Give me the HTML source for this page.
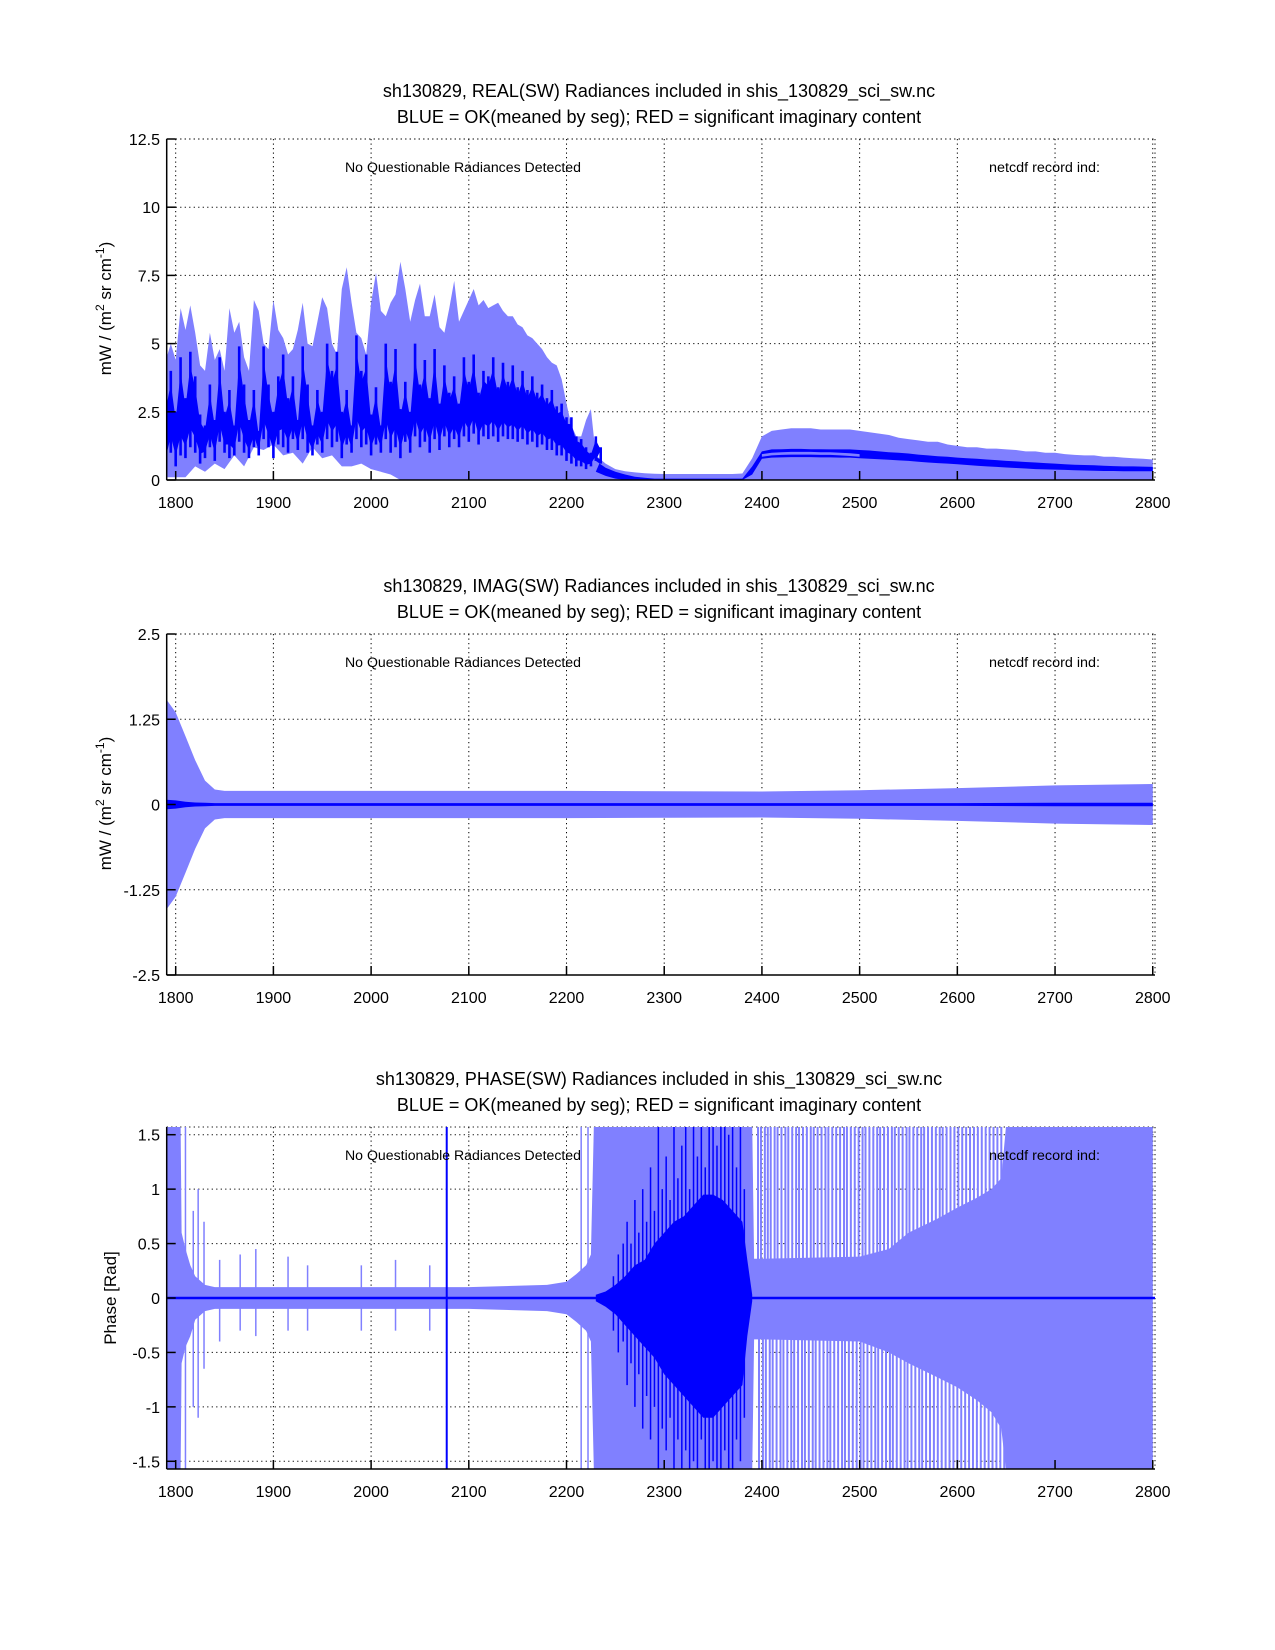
<!DOCTYPE html>
<html><head><meta charset="utf-8"><title>SHIS SW radiances</title>
<style>
html,body{margin:0;padding:0;background:#fff;}
svg{display:block;}
text{font-family:"Liberation Sans",Arial,sans-serif;fill:#000;}
</style></head>
<body>
<svg id="fig" width="1275" height="1650" viewBox="0 0 1275 1650" xmlns="http://www.w3.org/2000/svg">
<rect x="0" y="0" width="1275" height="1650" fill="#fff"/>
</svg>
<script>
// ---------- data ----------
const xTicks = [1800,1900,2000,2100,2200,2300,2400,2500,2600,2700,2800];
const realTicks = [0,2.5,5,7.5,10,12.5];
const realTickLabels = ["0","2.5","5","7.5","10","12.5"];
const imagTicks = [-2.5,-1.25,0,1.25,2.5];
const imagTickLabels = ["-2.5","-1.25","0","1.25","2.5"];
const phaseTicks = [-1.5,-1,-0.5,0,0.5,1,1.5];
const phaseTickLabels = ["-1.5","-1","-0.5","0","0.5","1","1.5"];

// REAL: light envelope upper (step 5 from 1790 to 2225)
const realHiA = [4.4,5.0,4.4,6.3,5.5,6.4,5.4,4.2,4.0,5.4,4.4,4.8,4.0,6.3,5.4,5.8,4.5,4.0,6.6,6.2,5.0,4.8,6.6,5.5,5.2,4.6,4.8,5.5,6.5,5.0,4.9,5.8,6.7,6.3,5.0,4.6,7.0,7.8,6.5,5.4,5.2,4.6,6.5,7.6,6.2,6.0,6.5,6.8,8.0,7.0,5.8,6.6,7.2,6.0,6.0,6.8,5.6,5.4,6.3,7.3,5.8,6.2,6.6,7.0,6.4,6.6,6.3,6.4,6.5,6.2,6.0,6.0,5.7,5.6,5.3,5.2,5.0,4.8,4.5,4.3,4.2,3.7,2.8,2.0,1.6,1.6,2.2,2.6];
// REAL: light envelope upper (step 10 from 2230 to 2800)
const realHiB = [0.9,0.6,0.4,0.32,0.28,0.25,0.23,0.22,0.22,0.22,0.22,0.22,0.22,0.22,0.22,0.24,0.8,1.6,1.8,1.85,1.9,1.9,1.9,1.85,1.85,1.85,1.85,1.8,1.75,1.7,1.65,1.55,1.5,1.45,1.4,1.4,1.3,1.25,1.2,1.2,1.15,1.15,1.12,1.1,1.05,1.05,1.0,1.0,0.95,0.92,0.9,0.9,0.85,0.85,0.82,0.8,0.78,0.75];
// REAL: light lower envelope (step 10 from 1790; zeros afterwards)
const realLo = [0.1,0.1,0.1,0.5,0.3,0.6,0.4,0.9,0.5,1.2,1.1,1.3,0.9,1.0,0.6,1.2,0.8,0.9,0.5,0.5,0.6,0.4,0.3,0.2];
// REAL: dark band (mean by segment) upper / lower, step 5 from 1790 to 2225
const realDarkHiA = [3.0,4.0,2.5,4.5,3.0,4.7,3.8,2.4,2.0,3.5,2.2,4.5,2.5,3.3,2.0,4.9,3.5,2.2,3.3,1.8,4.9,3.5,2.5,3.8,4.6,3.0,3.8,2.2,4.9,3.5,2.0,3.3,2.5,5.0,4.0,4.7,2.5,3.3,2.0,5.3,4.0,4.6,2.4,3.4,2.0,5.0,3.6,4.8,2.6,3.6,2.5,5.0,3.5,4.4,3.0,4.8,2.8,4.2,3.2,3.8,2.8,4.5,3.6,4.6,3.2,4.0,3.8,4.5,3.4,4.3,3.6,4.2,3.4,4.0,3.3,3.8,3.2,3.5,3.0,3.3,2.7,2.8,2.3,2.3,1.6,1.5,1.2,1.0,1.6,1.2];
const realDarkLoA = [0.3,1.0,0.5,0.9,0.8,1.2,1.0,0.6,0.8,1.2,0.7,1.4,1.0,0.8,0.9,1.4,1.0,0.8,1.2,0.9,1.5,1.2,0.8,1.3,1.2,1.0,1.5,1.1,1.5,1.0,0.9,1.3,1.0,1.5,1.2,1.4,0.8,1.3,1.0,1.5,1.2,1.3,0.9,1.3,1.0,1.5,1.0,1.2,0.8,1.4,1.0,1.6,1.2,1.4,1.0,1.5,1.1,1.6,1.2,1.5,1.2,1.6,1.4,1.7,1.3,1.6,1.5,1.6,1.4,1.6,1.5,1.5,1.4,1.5,1.3,1.4,1.2,1.3,1.1,1.1,0.9,0.9,0.7,0.6,0.5,0.5,0.4,0.5,0.7,0.6];
// REAL dark, step 10 from 2230 to 2800
const realDarkHiB = [0.7,0.45,0.3,0.2,0.12,0.08,0.05,0.05,0.05,0.05,0.05,0.05,0.05,0.05,0.05,0.05,0.5,1.05,1.12,1.13,1.14,1.14,1.13,1.13,1.12,1.12,1.12,1.1,1.08,1.05,1.02,1.0,0.97,0.93,0.9,0.87,0.85,0.82,0.8,0.78,0.75,0.73,0.7,0.68,0.66,0.64,0.62,0.6,0.58,0.56,0.55,0.54,0.52,0.51,0.5,0.5,0.49,0.48];
const realDarkLoB = [0.3,0.15,0.05,0,0,0,0,0,0,0,0,0,0,0,0,0,0.2,0.78,0.82,0.83,0.84,0.84,0.84,0.83,0.83,0.82,0.82,0.8,0.78,0.76,0.74,0.72,0.7,0.67,0.64,0.62,0.6,0.58,0.55,0.52,0.5,0.48,0.46,0.44,0.42,0.4,0.39,0.38,0.37,0.36,0.35,0.34,0.33,0.33,0.32,0.32,0.32,0.32];
const realInnerBand = [0.95,1.0,1.02,1.03,1.03,1.03,1.02,1.02,1.0,0.98,0.95];

// IMAG
const imagWn = [1790,1800,1810,1820,1830,1840,1850,2000,2200,2400,2500,2600,2700,2800];
const imagEnv = [1.55,1.35,1.0,0.65,0.35,0.22,0.2,0.2,0.2,0.19,0.21,0.24,0.28,0.3];
const imagDark = [0.07,0.06,0.04,0.03,0.025,0.02,0.02,0.02,0.02,0.02,0.02,0.02,0.025,0.025];

// PHASE
const phaseWn = [1790,1805,1806,1810,1815,1820,1830,1840,2100,2180,2200,2210,2220,2225,2228,2390,2392,2400,2500,2530,2550,2580,2600,2620,2635,2645,2650,2800];
const phaseHi = [1.6,1.6,0.6,0.45,0.3,0.2,0.12,0.1,0.1,0.12,0.15,0.22,0.3,0.4,1.6,1.6,0.36,0.36,0.38,0.45,0.6,0.73,0.83,0.92,1.0,1.1,1.6,1.6];
const phaseLo = [-1.6,-1.6,-0.6,-0.45,-0.35,-0.2,-0.12,-0.1,-0.1,-0.12,-0.15,-0.22,-0.3,-0.4,-1.6,-1.6,-0.38,-0.38,-0.4,-0.5,-0.6,-0.73,-0.82,-0.94,-1.05,-1.2,-1.6,-1.6];
const phaseSpikeWn = [1810,1818,1823,1829,1845,1866,1882,1915,1935,1990,2025,2060,2215,2222];
const phaseSpikeTop = [1.6,0.8,1.0,0.7,0.35,0.4,0.45,0.38,0.3,0.3,0.35,0.3,1.6,1.6];
const phaseSpikeBot = [-1.6,-1.0,-1.1,-0.65,-0.4,-0.3,-0.35,-0.3,-0.3,-0.3,-0.3,-0.3,-1.6,-1.6];
const phaseUpSpikeWn = [2396,2399,2403,2406,2409,2413,2416,2420,2424,2427,2431,2435,2438,2442,2446,2450,2453,2457,2461,2465,2468,2472,2476,2480,2484,2487,2491,2495,2499,2503,2506,2510,2514,2518,2521,2525,2529,2533,2536,2540,2544,2548,2551,2555,2559,2563,2566,2570,2574,2578,2582,2585,2589,2593,2597,2601,2605,2609,2613,2617,2621,2625,2629,2633,2637,2641,2645];
const phaseDownSpikeWn = [2397,2401,2404,2408,2411,2415,2419,2422,2426,2430,2433,2437,2441,2444,2448,2452,2455,2459,2463,2467,2470,2474,2478,2482,2485,2489,2493,2497,2501,2504,2508,2512,2516,2519,2523,2527,2531,2534,2538,2542,2546,2549,2553,2557,2561,2564,2568,2572,2576,2580,2584,2588,2592,2596,2600,2604,2608,2612,2616,2620,2624,2628,2632,2636,2640,2644,2648];
const phaseDarkWn = [2230,2240,2250,2260,2270,2280,2290,2300,2310,2320,2330,2340,2350,2360,2370,2380,2385,2390];
const phaseDarkHi = [0.03,0.06,0.12,0.2,0.3,0.35,0.5,0.6,0.7,0.75,0.85,0.95,0.95,0.9,0.8,0.7,0.35,0.03];
const phaseDarkLo = [-0.03,-0.08,-0.15,-0.25,-0.35,-0.45,-0.55,-0.7,-0.8,-0.9,-1.0,-1.1,-1.1,-1.0,-0.9,-0.8,-0.35,-0.03];
const phaseDarkSpikeWn = [2248,2253,2258,2262,2266,2270,2274,2278,2282,2286,2290,2294,2298,2302,2306,2310,2314,2318,2322,2326,2330,2334,2338,2342,2346,2350,2354,2358,2362,2366,2370,2374,2378,2382];
const phaseDarkSpikeTop = [0.2,0.4,0.5,0.7,0.5,0.9,0.6,1.0,0.7,1.2,0.8,1.6,1.0,1.3,0.9,1.6,1.1,1.4,1.6,1.0,1.6,1.3,1.6,1.2,1.6,1.6,1.4,1.6,1.6,1.5,1.6,1.2,1.6,1.0];
const phaseDarkSpikeBot = [-0.3,-0.5,-0.4,-0.8,-0.6,-1.0,-0.7,-1.2,-0.9,-1.3,-1.0,-1.6,-1.2,-1.4,-1.1,-1.6,-1.3,-1.6,-1.4,-1.6,-1.5,-1.6,-1.3,-1.6,-1.6,-1.5,-1.6,-1.6,-1.4,-1.6,-1.6,-1.3,-1.5,-1.1];
const phaseMarkerWn = [2077.4];

// ---------- geometry ----------
const SVGNS="http://www.w3.org/2000/svg";
const fig=document.getElementById('fig');
const X0=166.7, X1=1155, W0=1790.8, W1=2802.3;
function sx(w){return X0+(w-W0)*(X1-X0)/(W1-W0);}
function mk(tag,attrs,parent){const e=document.createElementNS(SVGNS,tag);for(const k in attrs)e.setAttribute(k,attrs[k]);(parent||fig).appendChild(e);return e;}
const LIGHT="#8080ff", DARK="#0000ff";

const panels=[
 {key:'real',top:139,bot:480,ymin:0,ymax:12.5,ticks:realTicks,labels:realTickLabels,
  t1:"sh130829, REAL(SW) Radiances included in shis_130829_sci_sw.nc"},
 {key:'imag',top:634,bot:975,ymin:-2.5,ymax:2.5,ticks:imagTicks,labels:imagTickLabels,
  t1:"sh130829, IMAG(SW) Radiances included in shis_130829_sci_sw.nc"},
 {key:'phase',top:1127,bot:1469,ymin:-1.5708,ymax:1.5708,ticks:phaseTicks,labels:phaseTickLabels,
  t1:"sh130829, PHASE(SW) Radiances included in shis_130829_sci_sw.nc"}
];
function syf(p){return v=>{v=Math.max(p.ymin-0.05,Math.min(p.ymax+0.05,v));return p.bot-(v-p.ymin)/(p.ymax-p.ymin)*(p.bot-p.top);};}
function poly(pts,fill,g,name){
  const e=mk('polygon',{points:pts.map(q=>q[0].toFixed(1)+','+q[1].toFixed(1)).join(' '),fill:fill},g);
  
  
  return e;
}

panels.forEach((p,i)=>{
  const sy=syf(p);
  const g=mk('g',{});
  
  
  const cp=mk('clipPath',{id:'clip'+i},g);
  mk('rect',{x:X0,y:p.top,width:X1-X0,height:p.bot-p.top},cp);
  const cx=659;
  const t1=mk('text',{x:cx,y:p.top-42,'font-size':'18','text-anchor':'middle'},g);
  t1.textContent=p.t1;
  
  
  const t2=mk('text',{x:cx,y:p.top-16,'font-size':'18','text-anchor':'middle'},g);
  t2.textContent="BLUE = OK(meaned by seg); RED = significant imaginary content";
  
  
  const grid=mk('g',{stroke:'#000','stroke-width':'1','stroke-dasharray':'1.2,3.3'},g);
  
  
  xTicks.forEach(w=>mk('line',{x1:sx(w),x2:sx(w),y1:p.top,y2:p.bot},grid));
  p.ticks.forEach(v=>mk('line',{x1:X0,x2:X1,y1:sy(v),y2:sy(v)},grid));
  mk('line',{x1:X1,x2:X1,y1:p.top,y2:p.bot},grid);
  mk('line',{x1:X0,x2:X1,y1:p.top,y2:p.top},grid);
  const d=mk('g',{'clip-path':'url(#clip'+i+')'},g);
  
  
  if(p.key==='real'){
    const top=[];
    realHiA.forEach((v,k)=>top.push([sx(1790+5*k),sy(v)]));
    realHiB.forEach((v,k)=>top.push([sx(2230+10*k),sy(v)]));
    const bot=[];
    for(let k=0;k<=101;k++){const w=1790+10*k;const v=k<realLo.length?realLo[k]:0;bot.push([sx(Math.min(w,2802)),sy(v)]);}
    poly(top.concat(bot.reverse()),LIGHT,d,'real-light-envelope');
    realDarkHiA.forEach((v,k)=>{
      const w=1790+5*k;
      const l=mk('line',{x1:sx(w),x2:sx(w),y1:sy(v),y2:sy(realDarkLoA[k]),stroke:DARK,'stroke-width':'2.6'},d);
      
      
    });
    const dt=[],db=[];
    realDarkHiA.forEach((v,k)=>{const w=1790+5*k;const a=(v+realDarkLoA[k])/2;dt.push([sx(w),sy(a+(v-a)*0.7)]);db.push([sx(w),sy(a-(a-realDarkLoA[k])*0.6)]);});
    realDarkHiB.forEach((v,k)=>{const w=2230+10*k;dt.push([sx(w),sy(v)]);db.push([sx(w),sy(realDarkLoB[k])]);});
    poly(dt.concat(db.reverse()),DARK,d,'real-dark-band');
    const it=[],ib=[];
    realInnerBand.forEach((v,k)=>{const w=2400+10*k;it.push([sx(w),sy(v)]);ib.push([sx(w),sy(v-0.1)]);});
    poly(it.concat(ib.reverse()),LIGHT,d,'real-band-gap');
  } else if(p.key==='imag'){
    const t=imagWn.map((w,k)=>[sx(w),sy(imagEnv[k])]);
    const b=imagWn.map((w,k)=>[sx(w),sy(-imagEnv[k])]);
    poly(t.concat(b.reverse()),LIGHT,d,'imag-light-envelope');
    const dt=imagWn.map((w,k)=>[sx(w),sy(imagDark[k])]);
    const db=imagWn.map((w,k)=>[sx(w),sy(-imagDark[k])]);
    poly(dt.concat(db.reverse()),DARK,d,'imag-dark-band');
  } else {
    const t=phaseWn.map((w,k)=>[sx(w),sy(phaseHi[k])]);
    const b=phaseWn.map((w,k)=>[sx(w),sy(phaseLo[k])]);
    poly(t.concat(b.reverse()),LIGHT,d,'phase-light-envelope');
    phaseSpikeWn.forEach((w,k)=>{
      const l=mk('line',{x1:sx(w),x2:sx(w),y1:sy(phaseSpikeTop[k]),y2:sy(phaseSpikeBot[k]),stroke:LIGHT,'stroke-width':'1.5'},d);
      
      
    });
    phaseUpSpikeWn.forEach(w=>{
      const l=mk('line',{x1:sx(w),x2:sx(w),y1:sy(1.6),y2:sy(0),stroke:LIGHT,'stroke-width':'2'},d);
      
      
    });
    phaseDownSpikeWn.forEach(w=>{
      const l=mk('line',{x1:sx(w),x2:sx(w),y1:sy(0),y2:sy(-1.6),stroke:LIGHT,'stroke-width':'2'},d);
      
      
    });
    const zl=mk('line',{x1:X0,x2:X1,y1:sy(0),y2:sy(0),stroke:DARK,'stroke-width':'2.5'},d);
    
    
    const dt=phaseDarkWn.map((w,k)=>[sx(w),sy(phaseDarkHi[k])]);
    const db=phaseDarkWn.map((w,k)=>[sx(w),sy(phaseDarkLo[k])]);
    poly(dt.concat(db.reverse()),DARK,d,'phase-dark-band');
    phaseDarkSpikeWn.forEach((w,k)=>{
      const l=mk('line',{x1:sx(w),x2:sx(w),y1:sy(phaseDarkSpikeTop[k]),y2:sy(phaseDarkSpikeBot[k]),stroke:DARK,'stroke-width':'1.5'},d);
      
      
    });
    phaseMarkerWn.forEach(w=>{
      const l=mk('line',{x1:sx(w),x2:sx(w),y1:p.top,y2:p.bot,stroke:DARK,'stroke-width':'2'},d);
      
      
    });
  }
  const a1=mk('text',{x:345,y:p.top+33,'font-size':'13.5',textLength:'236',lengthAdjust:'spacingAndGlyphs'},g);
  a1.textContent="No Questionable Radiances Detected";
  
  
  const a2=mk('text',{x:989,y:p.top+33,'font-size':'13.5',textLength:'111',lengthAdjust:'spacingAndGlyphs'},g);
  a2.textContent="netcdf record ind:";
  
  
  const ax=mk('g',{stroke:'#000','stroke-width':'1.5'},g);
  
  
  mk('line',{x1:X0,x2:X0,y1:p.top,y2:p.bot},ax);
  mk('line',{x1:X0,x2:X1,y1:p.bot,y2:p.bot},ax);
  xTicks.forEach(w=>mk('line',{x1:sx(w),x2:sx(w),y1:p.bot,y2:p.bot-9},ax));
  p.ticks.forEach(v=>mk('line',{x1:X0,x2:X0+9,y1:sy(v),y2:sy(v)},ax));
  xTicks.forEach(w=>{
    const t=mk('text',{x:sx(w),y:p.bot+28,'font-size':'16','text-anchor':'middle'},g);
    t.textContent=String(w);
    
    
  });
  p.ticks.forEach((v,k)=>{
    const t=mk('text',{x:160,y:sy(v)+6,'font-size':'16','text-anchor':'end'},g);
    t.textContent=p.labels[k];
    
    
  });
  const yc=(p.top+p.bot)/2;
  let yl;
  if(p.key==='phase'){
    yl=mk('text',{x:0,y:0,'font-size':'17','text-anchor':'middle',transform:'translate(116,'+yc+') rotate(-90)'},g);
    yl.textContent="Phase [Rad]";
  } else {
    yl=mk('text',{x:0,y:0,'font-size':'17','text-anchor':'middle',transform:'translate(111,'+(yc-1)+') rotate(-90)'},g);
    yl.innerHTML='mW / (m<tspan dy="-7" font-size="12">2</tspan><tspan dy="7"> sr cm</tspan><tspan dy="-7" font-size="12">-1</tspan><tspan dy="7">)</tspan>';
  }
  
  
});
</script>
</body></html>
